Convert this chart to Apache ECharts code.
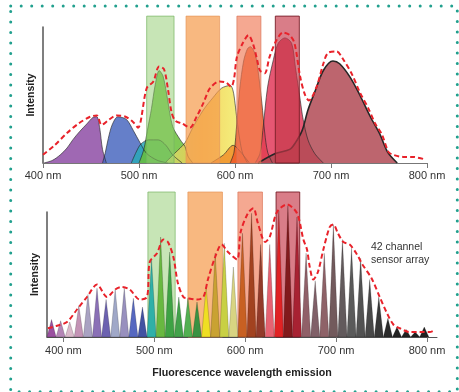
<!DOCTYPE html>
<html><head><meta charset="utf-8">
<script src="https://cdn.jsdelivr.net/npm/echarts@6/dist/echarts.min.js"></script>
<style>html,body{margin:0;padding:0;background:#fff}#c{width:459px;height:392px}</style>
</head><body><div id="c"></div>
<script>
const FONT = "'Liberation Sans', Arial, Helvetica, sans-serif";

// ---------- top panel: fluorophore emission spectra [nm, intensity] ----------
const topTicks = [400, 500, 600, 700, 800];
const purpleDye = [[401,0],[410,2],[418,6],[425,11],[431,17],[438,23],[446,29],[452,33.5],[456,34],[459,26],[462,10],[466,0]];
const blueDye = [[462,0],[465,8],[468,18],[472,28],[478,34],[487,32],[494,24],[501,15],[508,7],[519,2],[530,0]];
const tealDye = [[492,0],[497,8],[502,14],[510,17],[520,17],[528,13],[535,6],[545,0]];
const greenDye = [[500,0],[505,10],[509,25],[513,40],[517,58],[521,68],[525,64],[529,50],[535,27],[543,17],[548,12],[551,5],[556,0]];
const yellowDye = [[527,0],[537,7],[548,15],[556,26],[567,39],[577,48],[586,55],[595,57],[598,53],[600,44],[602,32],[605,17],[608,7],[613,0]];
const orangeDye = [[575,0],[588,6],[598,13],[606,8],[615,0]];
const orangeRedDye = [[595,0],[599,8],[602,30],[605,55],[609,75],[613,84],[616,85.5],[621,80],[624,68],[628,44],[631,22],[634,8],[639,0]];
const crimsonDye = [[621,0],[626,7],[629,24],[634,56],[640,76],[645,88],[652,92],[659,88],[663,70],[668,46],[671,32],[676,17],[683,7],[692,0]];
const darkRedDye = [[624,0],[642,7],[657,10],[663,15],[670,24],[676,39],[683,52],[692,68],[702,75],[709,73],[720,63],[730,50],[741,34],[751,21],[759,8],[769,0]];
const topEnvelope = [[400,6],[412,13],[425,22],[437,29],[449,34],[456,35],[461,28],[469,32],[477,35],[486,34],[494,30],[499,26],[508,55],[515,60],[521,71],[526,69],[530,55],[534,37],[538,31],[545,29],[553,26],[560,34],[567,44],[574,55],[584,60],[591,59],[596,56],[599,62],[602,78],[608,88],[614,94],[619,87],[623,76],[626,68],[631,66],[636,78],[643,90],[650,96],[657,94],[662,88],[668,63],[673,50],[677,46],[685,56],[692,73],[697,81],[706,82],[712,77],[722,65],[730,52],[739,40],[746,29],[753,21],[760,8],[765,6],[775,4.5],[785,4.5],[796,3]];
// filter bands [from nm, to nm, top]
const topBands = [[508,536.5,108],[549,584,108],[602,627,108],[642,667,108]];

// ---------- bottom panel: 42 channel sensor ----------
const channels = [387,397,407,417,427,437,447,457,467,477,487,497,507,517,527,537,547,557,567,577,587,597,607,617,627,637,647,657,667,677,687,697,707,717,727,737,747,757,767,777,787,797];
const channelHeights = [14,13,12,25,34,39,30,38,39,31,24,62,80,68,32,31,28,40,67,75,56,83,99,74,74,101,105,96,67,45,67,90,78,71,63,46,32,15,8,6,4,8];
const channelColors = ['#9a4fa0','#b486b6','#d9b9ca','#c393b5','#a9a2c2','#8a70b6','#6c62b0','#a0a8c8','#9890be','#5668c0','#4252a2','#2fb0a8','#68b840','#3ea244','#42a24a','#52b052','#3a9242','#efdf22','#c9a232','#c8d044','#d8d482','#c86022','#a24220','#923a2a','#e66272','#e02224','#821a1c','#a82232','#906068','#806068','#8e6268','#725a5c','#625a5c','#5a5a5a','#525252','#484848','#383838','#2a2a2a','#222222','#222222','#222222','#222222'];
const bottomTicks = [400, 500, 600, 700, 800];
const bottomEnvelope = [[383,7],[393,9],[404,12],[415,22],[426,32],[437,42],[448,32],[457,38],[464,40],[473,38],[484,30],[492,32],[495,60],[503,67],[510,78],[515,76],[521,64],[526,43],[532,32],[537,31],[547,30],[554,32],[559,46],[567,64],[574,74],[581,68],[591,62],[595,84],[603,99],[609,103],[614,91],[622,76],[627,80],[635,100],[646,106],[657,99],[664,78],[668,70],[671,56],[675,46],[680,52],[686,70],[693,88],[697,90],[702,83],[708,76],[715,74],[723,66],[729,58],[739,47],[748,32],[756,19],[763,10],[770,7],[781,4],[792,4],[803,4],[807,5]];
const bottomBands = [[493,523,116],[537,575,116],[592,619,116],[634,660,116]];

const bandFill = ['rgba(143,204,110,0.5)','rgba(245,154,74,0.7)','rgba(239,122,86,0.65)','rgba(196,56,72,0.65)'];
const bandStroke = ['rgba(120,180,100,0.7)','rgba(230,150,90,0.7)','rgba(220,120,90,0.7)','rgba(120,30,40,0.9)'];
const HALF = 5;

function dye(data, color, lw, lc, z) {
  return {type:'line', xAxisIndex:0, yAxisIndex:0, data, smooth:0.3, symbol:'none', silent:true, z: z||2,
    lineStyle:{color: lc || 'rgba(40,40,40,0.8)', width: lw || 0.8},
    areaStyle:{color, opacity:0.85}};
}
function bands(data, gi, z) {
  return {type:'custom', xAxisIndex:gi, yAxisIndex:gi, data, clip:false, z, silent:true,
    encode:{x:[0,1], y:2},
    renderItem(params, api) {
      const p0 = api.coord([api.value(0), api.value(2)]);
      const p1 = api.coord([api.value(1), 0]);
      const i = params.dataIndex;
      return {type:'rect', shape:{x:p0[0], y:p0[1], width:p1[0]-p0[0], height:p1[1]-p0[1]},
        style:{fill:bandFill[i], stroke:bandStroke[i], lineWidth:1}};
    }};
}

const chart = echarts.init(document.getElementById('c'), null, {renderer:'canvas'});
const axisLabel = {fontSize:11, color:'#333', fontFamily:FONT, formatter:'{value} nm'};
chart.setOption({
  animation:false,
  backgroundColor:'#fff',
  grid:[
    {left:43, top:27, width:384, height:136},
    {left:47, top:212, width:390, height:125}
  ],
  xAxis:[
    {type:'value', gridIndex:0, min:400, max:800, interval:100,
      axisLine:{lineStyle:{color:'#777', width:1}}, axisTick:{length:5, lineStyle:{color:'#777'}},
      axisLabel:Object.assign({margin:7}, axisLabel), splitLine:{show:false}},
    {type:'value', gridIndex:1, min:382, max:811,
      axisLine:{lineStyle:{color:'#555', width:1}}, axisTick:{length:5, customValues:bottomTicks, lineStyle:{color:'#777'}},
      axisLabel:Object.assign({margin:8, customValues:bottomTicks}, axisLabel), splitLine:{show:false},
      name:'Fluorescence wavelength emission', nameLocation:'middle', nameGap:31,
      nameTextStyle:{fontSize:10.7, fontWeight:'bold', color:'#222', fontFamily:FONT}}
  ],
  yAxis:[
    {type:'value', gridIndex:0, min:0, max:100, axisLine:{show:true, lineStyle:{color:'#555', width:1.5}},
      axisTick:{show:false}, axisLabel:{show:false}, splitLine:{show:false},
      name:'Intensity', nameLocation:'middle', nameGap:6,
      nameTextStyle:{fontSize:10.5, fontWeight:'bold', color:'#222', fontFamily:FONT}},
    {type:'value', gridIndex:1, min:0, max:100, axisLine:{show:true, lineStyle:{color:'#555', width:1.5}},
      axisTick:{show:false}, axisLabel:{show:false}, splitLine:{show:false},
      name:'Intensity', nameLocation:'middle', nameGap:6,
      nameTextStyle:{fontSize:10.5, fontWeight:'bold', color:'#222', fontFamily:FONT}}
  ],
  series:[
    dye(purpleDye, '#8e4ea6'),
    dye(blueDye, '#4a68bf'),
    dye(tealDye, '#2aa8b8'),
    dye(greenDye, '#6abf3a'),
    dye(yellowDye, {type:'linear', x:0, y:0, x2:1, y2:0, colorStops:[
      {offset:0, color:'#cfdc70'}, {offset:0.45, color:'#f2cc48'}, {offset:0.8, color:'#f2e660'}, {offset:1, color:'#f0ec80'}]}),
    dye(orangeDye, '#f0902a'),
    dye(orangeRedDye, '#f05828'),
    dye(crimsonDye, '#e23a5a'),
    dye(darkRedDye, '#b24a55', 1.6, '#262626'),
    bands(topBands, 0, 3),
    {type:'line', xAxisIndex:0, yAxisIndex:0, data:topEnvelope, smooth:0.3, symbol:'none', silent:true, z:5, clip:false,
      lineStyle:{color:'#e8222a', width:2, type:[5,3]}},
    bands(bottomBands, 1, 1),
    {type:'custom', xAxisIndex:1, yAxisIndex:1, clip:false, z:2, silent:true,
      data: channels.map((c, i) => [c, channelHeights[i]]),
      encode:{x:0, y:1},
      renderItem(params, api) {
        const c = api.value(0), h = api.value(1);
        const a = api.coord([c - HALF, 0]), b = api.coord([c, h]), d = api.coord([c + HALF, 0]);
        return {type:'polygon', shape:{points:[a, b, d]},
          style:{fill:channelColors[params.dataIndex], stroke:'rgba(0,0,0,0.3)', lineWidth:0.6}};
      }},
    {type:'line', xAxisIndex:1, yAxisIndex:1, data:bottomEnvelope, smooth:0.3, symbol:'none', silent:true, z:5, clip:false,
      lineStyle:{color:'#e8222a', width:2, type:[5,3]}}
  ],
  graphic:[
    {type:'rect', silent:true, z:-1, shape:{x:10.7, y:6, width:446.6, height:385.7},
      style:{fill:null, stroke:'#22a08e', lineWidth:3, lineDash:[0,10.5], lineCap:'round'}},
    {type:'text', silent:true, left:371, top:241,
      style:{text:'42 channel\nsensor array', fontSize:10.5, lineHeight:13, fill:'#333', fontFamily:FONT}}
  ]
});
</script></body></html>
